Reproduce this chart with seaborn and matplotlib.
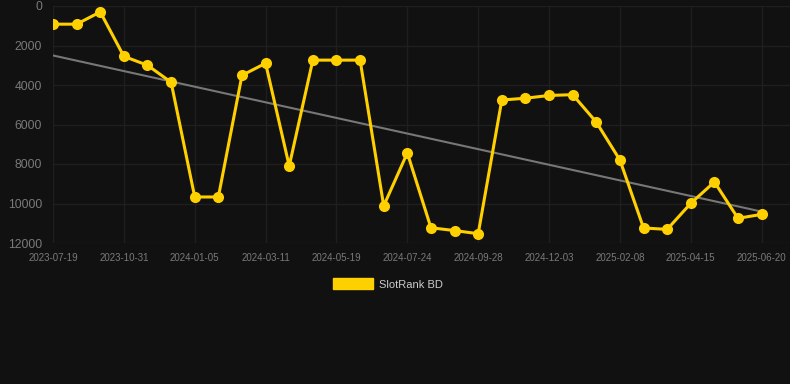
# Coding: utf-8
# SlotRank BD rank over time with linear trend
import numpy as np
import pandas as pd
import matplotlib.pyplot as plt
import matplotlib as mpl
import matplotlib.patches as patches
import seaborn as sns

sns.set_theme(style="dark")
mpl.rcParams['font.family'] = ['Liberation Sans', 'DejaVu Sans']

# rank per observation (lower is better, axis reversed)
rank = [920, 920, 300, 2550, 3000, 3860, 9670, 9670, 3510, 2900, 8100,
        2740, 2740, 2740, 10120, 7440, 11230, 11370, 11530, 4760, 4670,
        4530, 4490, 5880, 7800, 11240, 11310, 9990, 8910, 10750, 10550]
tick_labels = ['2023-07-19', '2023-10-31', '2024-01-05', '2024-03-11',
               '2024-05-19', '2024-07-24', '2024-09-28', '2024-12-03',
               '2025-02-08', '2025-04-15', '2025-06-20']
y_ticks = [0, 2000, 4000, 6000, 8000, 10000, 12000]
series_name = 'SlotRank BD'

bg = '#111111'
yellow = '#FFD000'
grid = '#1f1f1f'

df = pd.DataFrame({'idx': np.arange(len(rank)), 'rank': rank})

fig = plt.figure(figsize=(7.9, 3.84), dpi=100, facecolor=bg)
ax = fig.add_axes([53 / 790, 1 - 243 / 384, 737 / 790, 237 / 384])
ax.set_facecolor(bg)

# trend line
sns.regplot(data=df, x='idx', y='rank', scatter=False, ci=None, ax=ax,
            line_kws={'color': '#777777', 'linewidth': 1.5, 'zorder': 2})

sns.lineplot(data=df, x='idx', y='rank', ax=ax, color=yellow, linewidth=2.2,
             marker='o', markersize=8, markeredgewidth=0, zorder=3)

ax.set_xlim(0, 31.2)
ax.set_ylim(12000, 0)
ax.set_xticks(np.arange(0, len(rank), 3))
ax.set_xticklabels(tick_labels)
ax.set_yticks(y_ticks)
ax.set_xlabel('')
ax.set_ylabel('')
ax.grid(True, color=grid, linewidth=1)
for s in ax.spines.values():
    s.set_visible(False)
ax.tick_params(axis='x', labelsize=7, colors='#7a7a7a', length=5, color=grid, pad=2)
ax.tick_params(axis='y', labelsize=8.7, colors='#7a7a7a', length=0, pad=8)

handle = patches.Rectangle((0, 0), 1, 1, facecolor=yellow, edgecolor=yellow)
leg = fig.legend([handle], [series_name], loc='center', bbox_to_anchor=(0.491, 1 - 284 / 384),
                 frameon=False, fontsize=8, handlelength=3.6, handleheight=1.1,
                 handletextpad=0.6, labelcolor='#cccccc')

plt.savefig('out.png', dpi=100, facecolor=bg)
plt.close()
